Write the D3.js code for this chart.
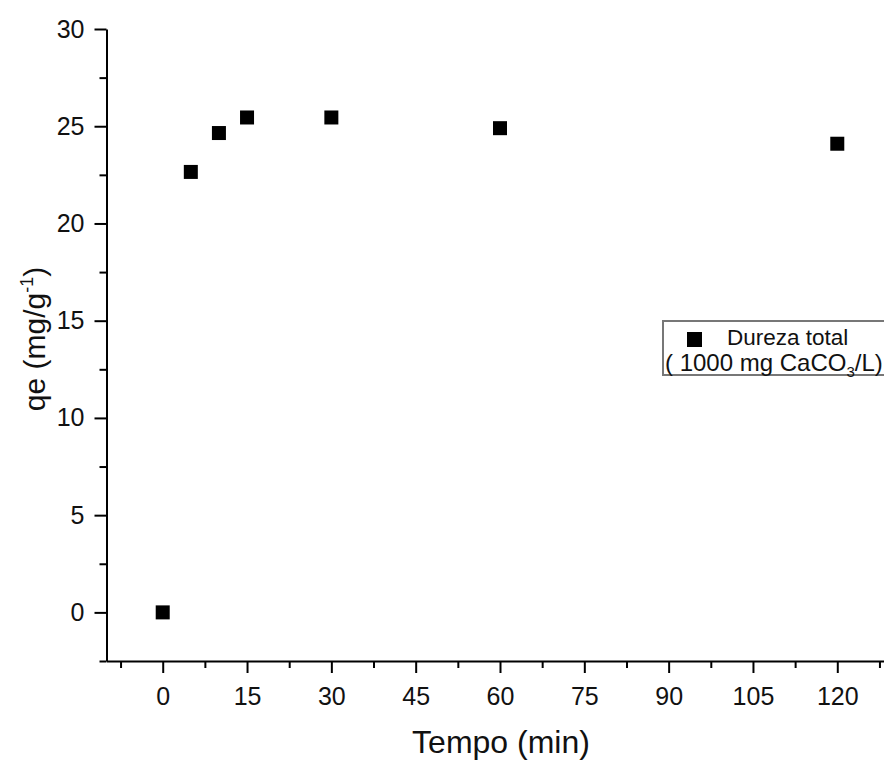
<!DOCTYPE html>
<html>
<head>
<meta charset="utf-8">
<script src="https://cdn.jsdelivr.net/npm/d3@7"></script>
<style>
  body { margin: 0; background: #fff; }
  svg { display: block; font-family: "Liberation Sans", Arial, sans-serif; }
</style>
</head>
<body>
<div id="chart"></div>
<script>
// Data
var tempo = [0, 5, 10, 15, 30, 60, 120],
    qe    = [0, 22.65, 24.65, 25.45, 25.45, 24.9, 24.1];

var xMajor = [0, 15, 30, 45, 60, 75, 90, 105, 120],
    xMinor = [-7.5, 7.5, 22.5, 37.5, 52.5, 67.5, 82.5, 97.5, 112.5, 127.5],
    yMajor = [0, 5, 10, 15, 20, 25, 30],
    yMinor = [-2.5, 2.5, 7.5, 12.5, 17.5, 22.5, 27.5];

var legendLabel = "Dureza total";

var width = 884, height = 760;

var svg = d3.select("#chart").append("svg")
    .attr("width", width)
    .attr("height", height);

// scales - x runs a bit past the right edge like the original
var x = d3.scaleLinear().domain([-10, 130]).range([106.5, 893.5]);
var y = d3.scaleLinear().domain([-2.5, 30]).range([661, 29]);

// minor ticks first
svg.append("g")
    .attr("transform", "translate(0,661)")
    .call(d3.axisBottom(x).tickValues(xMinor).tickSize(7).tickFormat(""))
    .call(function(g) { g.select(".domain").remove(); });

svg.append("g")
    .attr("transform", "translate(106.5,0)")
    .call(d3.axisLeft(y).tickValues(yMinor).tickSize(7).tickFormat(""))
    .call(function(g) { g.select(".domain").remove(); });

// major ticks + axis lines
svg.append("g")
    .attr("transform", "translate(0,661)")
    .call(d3.axisBottom(x).tickValues(xMajor).tickSize(12).tickSizeOuter(0).tickPadding(14));

svg.append("g")
    .attr("transform", "translate(106.5,0)")
    .call(d3.axisLeft(y).tickValues(yMajor).tickSize(12).tickSizeOuter(0).tickPadding(10));

svg.selectAll(".tick line, .domain")
    .attr("stroke", "#000")
    .attr("stroke-width", 2);

svg.selectAll(".tick text")
    .attr("fill", "#111")
    .style("font-size", "25px")
    .style("font-family", "'Liberation Sans', Arial, sans-serif");

// axis titles
svg.append("text")
    .attr("x", 501)
    .attr("y", 753)
    .attr("text-anchor", "middle")
    .style("font-size", "32px")
    .attr("fill", "#111")
    .text("Tempo (min)");

var yTitle = svg.append("text")
    .attr("transform", "translate(45,339) rotate(-90)")
    .attr("text-anchor", "middle")
    .style("font-size", "30px")
    .attr("fill", "#111");
yTitle.append("tspan").text("qe (mg/g");
yTitle.append("tspan").attr("dy", -12).style("font-size", "18px").text("-1");
yTitle.append("tspan").attr("dy", 12).text(")");

// data points
svg.append("g")
    .selectAll("rect")
    .data(tempo)
    .enter()
    .append("rect")
      .attr("x", function(d) { return x(d) - 7; })
      .attr("y", function(d, i) { return y(qe[i]) - 7; })
      .attr("width", 14)
      .attr("height", 14)
      .attr("fill", "#000");

// legend
var lg = svg.append("g").attr("transform", "translate(663,321)");
lg.append("rect")
    .attr("x", 0).attr("y", 0)
    .attr("width", 240).attr("height", 54)
    .attr("fill", "#fff")
    .attr("stroke", "#777")
    .attr("stroke-width", 2);
lg.append("rect")
    .attr("x", 24).attr("y", 11)
    .attr("width", 15).attr("height", 15)
    .attr("fill", "#000");
lg.append("text")
    .attr("x", 64).attr("y", 24)
    .style("font-size", "22.5px")
    .attr("fill", "#111")
    .text(legendLabel);
var l2 = lg.append("text")
    .attr("x", 2).attr("y", 50)
    .style("font-size", "24px")
    .attr("fill", "#111");
l2.append("tspan").text("( 1000 mg CaCO");
l2.append("tspan").attr("dy", 6).style("font-size", "15px").text("3");
l2.append("tspan").attr("dy", -6).text("/L)");
</script>
</body>
</html>
